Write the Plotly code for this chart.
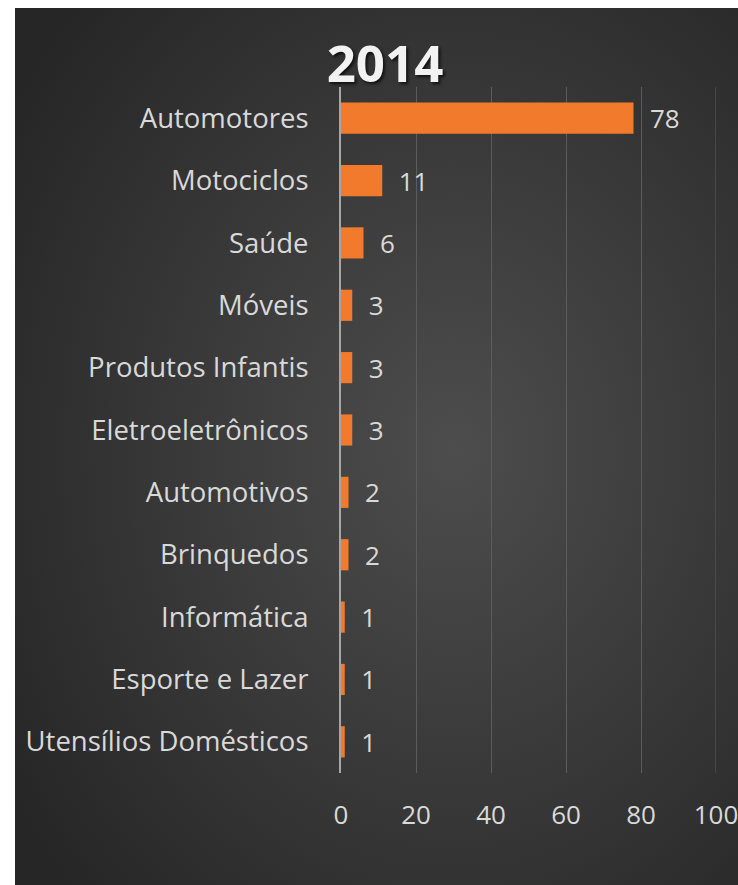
import plotly.graph_objects as go
import urllib.parse

categories = ["Automotores", "Motociclos", "Saúde", "Móveis", "Produtos Infantis",
              "Eletroeletrônicos", "Automotivos", "Brinquedos", "Informática",
              "Esporte e Lazer", "Utensílios Domésticos"]
values = [78, 11, 6, 3, 3, 3, 2, 2, 1, 1, 1]
x_ticks = [0, 20, 40, 60, 80, 100]
title_text = "2014"

W, H = 738, 885
L, R, T, B = 341, 716, 87, 773
pw, ph = R - L, B - T

bg_x0, bg_y0 = 15, 8
bg_w, bg_h = W + 8 - bg_x0, H + 8 - bg_y0

svg = ('<svg xmlns="http://www.w3.org/2000/svg" width="%d" height="%d">'
       '<defs><radialGradient id="g" cx="0.6" cy="0.5" r="0.72">'
       '<stop offset="0" stop-color="#4d4d4d"/><stop offset="1" stop-color="#262626"/>'
       '</radialGradient></defs><rect width="%d" height="%d" fill="url(#g)"/></svg>'
       % (bg_w, bg_h, bg_w, bg_h))
src = "data:image/svg+xml;charset=utf-8," + urllib.parse.quote(svg)

font_family = "'Open Sans', sans-serif"
txt_color = "#d9d9d9"
grid_color = "#5c5c5c"

fig = go.Figure()
fig.add_trace(go.Bar(
    x=values, y=categories, orientation="h",
    marker=dict(color="#f27a2c", line=dict(width=0)),
    text=["\u00a0\u00a0" + str(v) for v in values],
    textposition="outside", cliponaxis=False, constraintext="none",
    textfont=dict(family=font_family, size=26, color=txt_color),
    hoverinfo="skip",
))

fig.update_layout(
    width=W, height=H,
    margin=dict(l=L, r=W - R, t=T, b=H - B, autoexpand=False),
    paper_bgcolor="white", plot_bgcolor="rgba(0,0,0,0)",
    bargap=0.5, showlegend=False,
    title=dict(text="<b>" + title_text + "</b>", x=385 / W, xref="container",
               xanchor="center", y=1 - 64 / H, yref="container", yanchor="middle",
               font=dict(family=font_family, size=51, color="#f2f2f2",
                         shadow="2px 2px 3px #111")),
    xaxis=dict(range=[0, 100], tickvals=x_ticks, showgrid=True, gridcolor=grid_color,
               gridwidth=1, zeroline=False, showline=False, ticks="", automargin=False,
               ticklabelstandoff=24, ticklabeloverflow="allow",
               tickfont=dict(family=font_family, size=26, color=txt_color)),
    yaxis=dict(autorange="reversed", showgrid=False, showline=True, linecolor="#a6a6a6",
               linewidth=2, ticks="", ticklabelstandoff=25, automargin=False,
               tickfont=dict(family=font_family, size=27.5, color=txt_color)),
    shapes=[dict(type="line", xref="x", yref="paper", x0=x_ticks[-1], x1=x_ticks[-1],
                 y0=0, y1=1, line=dict(color=grid_color, width=1), layer="below")],
    images=[dict(source=src, xref="paper", yref="paper",
                 x=(bg_x0 - L) / pw, y=1 + (T - bg_y0) / ph,
                 sizex=bg_w / pw, sizey=bg_h / ph,
                 xanchor="left", yanchor="top", sizing="stretch", layer="below")],
)

fig.write_html("out.html", config={"displayModeBar": False},
               post_script="document.body.style.margin='0';"
                           "document.documentElement.style.overflow='hidden';")
